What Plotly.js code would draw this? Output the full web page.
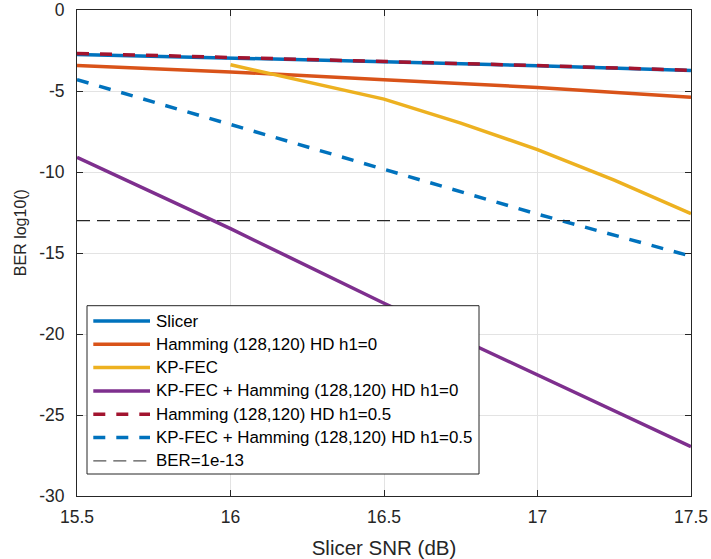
<!DOCTYPE html>
<html>
<head>
<meta charset="utf-8">
<script src="https://cdn.plot.ly/plotly-3.0.1.min.js"></script>
<style>html,body{margin:0;padding:0;background:#fff;}#chart{width:711px;height:559px;}</style>
</head>
<body>
<div id="chart"></div>
<script>
// Data (x: Slicer SNR in dB, y: log10 BER)
const snr = [15.5, 16, 16.5, 17, 17.5];
const slicer = [-2.74, -2.95, -3.19, -3.44, -3.73];
const hammingH0 = [-3.42, -3.82, -4.30, -4.78, -5.39];
const kpSnr = [16, 16.25, 16.5, 16.75, 17, 17.25, 17.5];
const kpFec = [-3.38, -4.45, -5.5, -6.98, -8.62, -10.5, -12.57];
const kpHammingH0 = [-9.1, -13.5, -18.1, -22.5, -26.95];
const hammingH05 = [-2.68, -2.92, -3.17, -3.43, -3.72];
const kpHammingH05 = [-4.30, -7.05, -9.8, -12.6, -15.2];
const berLimitX = [15.5, 17.5];
const berLimit = [-13, -13];

const names = ["Slicer", "Hamming (128,120) HD h1=0", "KP-FEC",
  "KP-FEC + Hamming (128,120) HD h1=0", "Hamming (128,120) HD h1=0.5",
  "KP-FEC + Hamming (128,120) HD h1=0.5", "BER=1e-13"];
const xTickVals = [15.5, 16, 16.5, 17, 17.5];
const xTickText = ["15.5", "16", "16.5", "17", "17.5"];
const yTickVals = [0, -5, -10, -15, -20, -25, -30];
const yTickText = ["0", "-5", "-10", "-15", "-20", "-25", "-30"];

const font = "Liberation Sans, Arial, Helvetica, sans-serif";
const axisColor = "#262626";

const lineStyles = [
  {color: "#0072BD", width: 3.5},
  {color: "#D95319", width: 3.5},
  {color: "#EDB120", width: 3.5},
  {color: "#7E2F8E", width: 3.5},
  {color: "#A2142F", width: 3.5, dash: "12px,11px"},
  {color: "#0072BD", width: 3.5, dash: "12px,11px"},
  {color: "#262626", width: 1.2, dash: "13px,7px"}
];
const xs = [snr, snr, kpSnr, snr, snr, snr, berLimitX];
const ys = [slicer, hammingH0, kpFec, kpHammingH0, hammingH05, kpHammingH05, berLimit];

const traces = names.map((n, i) => ({
  type: "scatter", mode: "lines", hoverinfo: "skip", showlegend: false,
  x: xs[i], y: ys[i], name: n, line: lineStyles[i]
}));

// Plot-area geometry (pixels) used to place the MATLAB-style legend box
const W = 711, H = 559, mL = 77, mR = 20, mT = 10, mB = 63;
const pw = W - mL - mR, ph = H - mT - mB;
const px = v => (v - mL) / pw;
const py = v => (H - mB - v) / ph;

const shapes = [{
  type: "rect", xref: "paper", yref: "paper", layer: "above",
  x0: px(87), x1: px(479), y0: py(474), y1: py(305.7),
  fillcolor: "#fff", line: {color: axisColor, width: 1}
}];
const annotations = [{
  text: "BER log10()", xref: "paper", yref: "paper",
  x: px(20.7), y: py(232.5), xanchor: "center", yanchor: "middle",
  textangle: -90, showarrow: false,
  font: {family: font, size: 16, color: axisColor}
}];
names.forEach((n, i) => {
  const rowY = 321 + i * 23.3;
  shapes.push({
    type: "line", xref: "paper", yref: "paper", layer: "above",
    x0: px(93.3), x1: px(150), y0: py(rowY), y1: py(rowY),
    line: Object.assign({}, lineStyles[i], i === 6 ? {color: "#555"} : {})
  });
  annotations.push({
    text: n, xref: "paper", yref: "paper", x: px(153.5), y: py(rowY),
    xanchor: "left", yanchor: "middle", showarrow: false,
    font: {family: font, size: 16.9, color: "#000"}
  });
});

const layout = {
  width: W, height: H,
  margin: {l: mL, r: mR, t: mT, b: mB},
  paper_bgcolor: "#fff", plot_bgcolor: "#fff",
  font: {family: font, color: axisColor, size: 17},
  showlegend: false,
  xaxis: {
    range: [15.5, 17.5], tickvals: xTickVals, ticktext: xTickText,
    showgrid: true, gridcolor: "#e3e3e3", gridwidth: 1,
    zeroline: false, showline: true, linecolor: axisColor, linewidth: 1,
    mirror: "ticks", ticks: "inside", ticklen: 6, tickcolor: axisColor,
    tickfont: {family: font, size: 17.5, color: axisColor},
    ticklabelstandoff: 5,
    title: {text: "Slicer SNR (dB)", font: {family: font, size: 20.5, color: axisColor}, standoff: 14}
  },
  yaxis: {
    range: [-30, 0], tickvals: yTickVals, ticktext: yTickText,
    showgrid: true, gridcolor: "#e3e3e3", gridwidth: 1,
    zeroline: false, showline: true, linecolor: axisColor, linewidth: 1,
    mirror: "ticks", ticks: "inside", ticklen: 6, tickcolor: axisColor,
    tickfont: {family: font, size: 17.5, color: axisColor},
    ticklabelstandoff: 8
  },
  shapes: shapes,
  annotations: annotations
};

Plotly.newPlot("chart", traces, layout, {displayModeBar: false, staticPlot: true});
</script>
</body>
</html>
